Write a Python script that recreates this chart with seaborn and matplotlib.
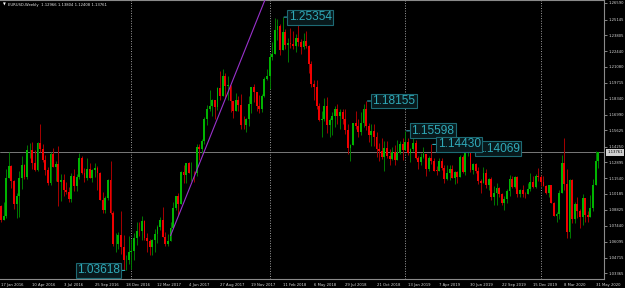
import numpy as np
import pandas as pd
import matplotlib
matplotlib.use("Agg")
import matplotlib.pyplot as plt
import matplotlib.transforms as mtransforms
import seaborn as sns

# ---------------- data (EURUSD weekly) ----------------
week_start = "2016-01-17"
first_open = 1.0915

close16 = [1.0796, 1.0831, 1.1158, 1.1259, 1.1130, 1.0932, 1.1004, 1.1152, 1.1267, 1.1165,
           1.1391, 1.1399, 1.1282, 1.1224, 1.1451, 1.1401, 1.1307, 1.1222, 1.1114, 1.1365,
           1.1250, 1.1277, 1.1119, 1.1136, 1.1052, 1.1039, 1.0976, 1.1175, 1.1086, 1.1161,
           1.1325, 1.1198, 1.1154, 1.1233, 1.1155, 1.1227, 1.1240, 1.1201, 1.0968, 1.0884,
           1.0984, 1.1140, 1.0851, 1.0587, 1.0588, 1.0664, 1.0559, 1.0450, 1.0455, 1.0520]
high16 = [1.0926, 1.0950, 1.1236, 1.1376, 1.1263, 1.1135, 1.1030, 1.1218, 1.1342, 1.1278,
          1.1439, 1.1453, 1.1465, 1.1398, 1.1460, 1.1616, 1.1447, 1.1349, 1.1252, 1.1374,
          1.1416, 1.1298, 1.1428, 1.1188, 1.1186, 1.1120, 1.1079, 1.1198, 1.1235, 1.1188,
          1.1366, 1.1342, 1.1240, 1.1327, 1.1283, 1.1234, 1.1283, 1.1259, 1.1207, 1.1039,
          1.1000, 1.1143, 1.1300, 1.0870, 1.0687, 1.0695, 1.0874, 1.0669, 1.0496, 1.0653]
low16 = [1.0778, 1.0808, 1.0810, 1.1159, 1.1067, 1.0888, 1.0809, 1.0823, 1.1058, 1.1143,
         1.1144, 1.1327, 1.1234, 1.1215, 1.1217, 1.1382, 1.1292, 1.1178, 1.1098, 1.1098,
         1.1248, 1.1131, 1.0912, 1.0957, 1.0999, 1.1019, 1.0952, 1.0951, 1.1046, 1.1046,
         1.1145, 1.1185, 1.1122, 1.1142, 1.1153, 1.1121, 1.1160, 1.1048, 1.0968, 1.0858,
         1.0852, 1.0966, 1.0842, 1.0569, 1.0518, 1.0548, 1.0504, 1.0366, 1.03618, 1.0419]

close17 = [1.0532, 1.0643, 1.0703, 1.0698, 1.0785, 1.0641, 1.0618, 1.0562, 1.0621, 1.0671,
           1.0738, 1.0797, 1.0651, 1.0591, 1.0616, 1.0727, 1.0894, 1.0997, 1.0933, 1.1206,
           1.1183, 1.1283, 1.1196, 1.1198, 1.1195, 1.1424, 1.1400, 1.1470, 1.1665, 1.1748,
           1.1773, 1.1821, 1.1760, 1.1923, 1.1858, 1.2033, 1.1944, 1.1951, 1.1818, 1.1729,
           1.1822, 1.1784, 1.1609, 1.1608, 1.1664, 1.1792, 1.1935, 1.1893, 1.1773, 1.1749,
           1.1856, 1.2007]
high17 = [1.0628, 1.0685, 1.0775, 1.0775, 1.0829, 1.0797, 1.0679, 1.0631, 1.0634, 1.0714,
          1.0748, 1.0824, 1.0906, 1.0690, 1.0678, 1.0778, 1.0951, 1.0999, 1.1023, 1.1211,
          1.1268, 1.1285, 1.1296, 1.1296, 1.1219, 1.1445, 1.1446, 1.1490, 1.1680, 1.1777,
          1.1910, 1.1829, 1.1788, 1.1940, 1.2070, 1.2092, 1.2058, 1.2034, 1.1950, 1.1790,
          1.1880, 1.1860, 1.1879, 1.1689, 1.1668, 1.1861, 1.1940, 1.1961, 1.1876, 1.1863,
          1.1878, 1.2023]
low17 = [1.0370, 1.0454, 1.0578, 1.0655, 1.0620, 1.0621, 1.0521, 1.0494, 1.0493, 1.0524,
         1.0600, 1.0712, 1.0650, 1.0570, 1.0571, 1.0651, 1.0821, 1.0877, 1.0838, 1.0930,
         1.1109, 1.1109, 1.1195, 1.1131, 1.1119, 1.1172, 1.1312, 1.1371, 1.1444, 1.1612,
         1.1730, 1.1689, 1.1662, 1.1740, 1.1823, 1.1857, 1.1838, 1.1822, 1.1717, 1.1669,
         1.1730, 1.1730, 1.1574, 1.1574, 1.1553, 1.1599, 1.1715, 1.1811, 1.1730, 1.1716,
         1.1720, 1.1851]

close18 = [1.2029, 1.2196, 1.2221, 1.2426, 1.2462, 1.2253, 1.2405, 1.2295, 1.2315, 1.2307,
           1.2287, 1.2353, 1.2320, 1.2280, 1.2330, 1.2289, 1.2129, 1.1960, 1.1940, 1.1769,
           1.1653, 1.1658, 1.1770, 1.1611, 1.1655, 1.1685, 1.1747, 1.1685, 1.1719, 1.1657,
           1.1567, 1.1411, 1.1438, 1.1624, 1.1604, 1.1552, 1.1625, 1.1744, 1.1604, 1.1525,
           1.1559, 1.1510, 1.1401, 1.1388, 1.1335, 1.1415, 1.1340, 1.1317, 1.1377, 1.1307,
           1.1371, 1.1443, 1.1394]
high18 = [1.2089, 1.2219, 1.2323, 1.2530, 1.2520, 1.2478, 1.25354, 1.2432, 1.2353, 1.2446,
          1.2413, 1.2387, 1.2477, 1.2346, 1.2396, 1.2414, 1.2296, 1.2156, 1.2000, 1.1995,
          1.1796, 1.1726, 1.1840, 1.1852, 1.1670, 1.1720, 1.1770, 1.1791, 1.1746, 1.1750,
          1.1747, 1.1615, 1.1446, 1.1623, 1.1734, 1.1659, 1.1721, 1.1786, 1.18155, 1.1624,
          1.1622, 1.1621, 1.1547, 1.1456, 1.1499, 1.1472, 1.1472, 1.1401, 1.1420, 1.1442,
          1.1485, 1.1476, 1.1497]
low18 = [1.1996, 1.1916, 1.2165, 1.2215, 1.2335, 1.2206, 1.2260, 1.2260, 1.2153, 1.2272,
         1.2259, 1.2240, 1.2285, 1.2215, 1.2262, 1.2270, 1.2055, 1.1938, 1.1823, 1.1750,
         1.1642, 1.1510, 1.1645, 1.1541, 1.1508, 1.1526, 1.1590, 1.1615, 1.1575, 1.1614,
         1.1529, 1.1365, 1.1301, 1.1437, 1.1577, 1.1509, 1.1526, 1.1594, 1.1570, 1.1462,
         1.1432, 1.1432, 1.1335, 1.1302, 1.1316, 1.1216, 1.1325, 1.1268, 1.1310, 1.1268,
         1.1332, 1.1360, 1.1309]

close19 = [1.1467, 1.1366, 1.1407, 1.1456, 1.1326, 1.1295, 1.1335, 1.1365, 1.1235, 1.1325,
           1.1297, 1.1217, 1.1216, 1.1297, 1.1245, 1.1150, 1.1202, 1.1233, 1.1159, 1.1205,
           1.1167, 1.1333, 1.1206, 1.1370, 1.1370, 1.1225, 1.1271, 1.1219, 1.1127, 1.1108,
           1.1201, 1.1092, 1.1143, 1.0989, 1.1027, 1.1073, 1.1016, 1.0940, 1.0979, 1.1040,
           1.1143, 1.1080, 1.1166, 1.1017, 1.1052, 1.1018, 1.1017, 1.1060, 1.1120, 1.1078,
           1.1176, 1.1160]
high19 = [1.15598, 1.1497, 1.1415, 1.1514, 1.1481, 1.1342, 1.1372, 1.1420, 1.1362, 1.1345,
          1.14430, 1.1325, 1.1255, 1.1323, 1.1324, 1.1267, 1.1265, 1.1263, 1.1265, 1.1214,
          1.1216, 1.1348, 1.1348, 1.1372, 1.14069, 1.1394, 1.1286, 1.1286, 1.1250, 1.1150,
          1.1250, 1.1230, 1.1153, 1.1163, 1.1085, 1.1109, 1.1075, 1.1025, 1.0999, 1.1063,
          1.1179, 1.1173, 1.1175, 1.1176, 1.1063, 1.1097, 1.1039, 1.1116, 1.1200, 1.1175,
          1.1185, 1.1239]
low19 = [1.1408, 1.1353, 1.1290, 1.1389, 1.1321, 1.1234, 1.1263, 1.1325, 1.1176, 1.1214,
         1.1273, 1.1212, 1.1183, 1.1211, 1.1226, 1.1111, 1.1136, 1.1135, 1.1154, 1.1106,
         1.1116, 1.1163, 1.1201, 1.1181, 1.1341, 1.1207, 1.1193, 1.1200, 1.1101, 1.1026,
         1.1135, 1.1066, 1.1052, 1.0963, 1.0927, 1.0927, 1.0990, 1.0926, 1.0879, 1.0940,
         1.1000, 1.1072, 1.1073, 1.0989, 1.0989, 1.0990, 1.0981, 1.1020, 1.1040, 1.1065,
         1.1065, 1.1125]

close20 = [1.1121, 1.1090, 1.1025, 1.1094, 1.0944, 1.0831, 1.0847, 1.1025, 1.1284, 1.1103,
           1.0695, 1.1140, 1.0800, 1.0935, 1.0875, 1.0821, 1.0983, 1.0838, 1.0818, 1.0899,
           1.1098, 1.12966, 1.13761]
high20 = [1.1179, 1.1173, 1.1097, 1.1096, 1.1095, 1.0953, 1.0864, 1.1052, 1.1355, 1.1495,
          1.1236, 1.1147, 1.1147, 1.0953, 1.0990, 1.0891, 1.1018, 1.0981, 1.0875, 1.1009,
          1.1147, 1.1384, 1.13804]
low20 = [1.1085, 1.1085, 1.1018, 1.0992, 1.0940, 1.0827, 1.0778, 1.0800, 1.1054, 1.1055,
         1.0636, 1.0637, 1.0768, 1.0768, 1.0810, 1.0727, 1.0755, 1.0781, 1.0775, 1.0870,
         1.0871, 1.1095, 1.12408]

# zigzag price labels (drawn in this order; later ones on top)
mark_dates = ["2019-06-23", "2018-02-11", "2018-09-23", "2019-01-06", "2019-03-17", "2016-12-18"]
mark_prices = [1.14069, 1.25354, 1.18155, 1.15598, 1.14430, 1.03618]
mark_side = ["right", "right", "right", "right", "right", "left"]

# trend line anchors
trend_dates = ["2017-04-16", "2017-12-31"]
trend_prices = [1.0660, 1.2727]

current_price = 1.13761
header = "EURUSD,Weekly  1.12966 1.13804 1.12408 1.13761"

ytick_values = [1.26590, 1.25145, 1.23805, 1.22440, 1.21080, 1.19715, 1.18340, 1.16990, 1.15625,
                1.14250, 1.12895, 1.11540, 1.10185, 1.08825, 1.07440, 1.06095, 1.04715, 1.03365]
xtick_labels = ["17 Jan 2016", "10 Apr 2016", "3 Jul 2016", "25 Sep 2016", "18 Dec 2016",
                "12 Mar 2017", "4 Jun 2017", "27 Aug 2017", "19 Nov 2017", "11 Feb 2018",
                "6 May 2018", "29 Jul 2018", "21 Oct 2018", "13 Jan 2019", "7 Apr 2019",
                "30 Jun 2019", "22 Sep 2019", "15 Dec 2019", "8 Mar 2020", "31 May 2020"]

# ---------------- build frame ----------------
closes = close16 + close17 + close18 + close19 + close20
highs = high16 + high17 + high18 + high19 + high20
lows = low16 + low17 + low18 + low19 + low20
n = min(len(closes), len(highs), len(lows))
dates = pd.date_range(week_start, periods=n, freq="W-SUN")
c = np.array(closes[:n])
o = np.array([first_open] + closes[:n - 1])
h = np.maximum(np.array(highs[:n]), np.maximum(o, c))
l = np.minimum(np.array(lows[:n]), np.minimum(o, c))
df = pd.DataFrame({"date": dates, "open": o, "high": h, "low": l, "close": c})
df["idx"] = np.arange(n)
df["bull"] = df["close"] >= df["open"]
date_to_idx = {d.strftime("%Y-%m-%d"): i for i, d in enumerate(dates)}

# ---------------- style ----------------
sns.set_theme(style="dark", rc={
    "axes.facecolor": "black", "figure.facecolor": "black",
    "axes.edgecolor": "#808080", "axes.grid": False,
    "xtick.color": "#9a9a9a", "ytick.color": "#9a9a9a",
})
plt.rcParams["font.family"] = ["DejaVu Sans"]

W, H = 625, 288
fig = plt.figure(figsize=(W / 100, H / 100), dpi=100)
ax = fig.add_axes([0, 9 / H, 604 / W, 279 / H])
px_per_bar = 2.608
ax.set_xlim(-1 / px_per_bar, (604 - 1) / px_per_bar)
ax.set_ylim(1.02883, 1.26822)

# year separators
yrs = df["date"].dt.year.values
sep_idx = [i for i in range(1, n) if yrs[i] != yrs[i - 1]]
for i in sep_idx:
    ax.axvline(i, color="#a0a0a0", lw=0.7, ls=(0, (1, 1.6)), zorder=1)

# current price line
ax.axhline(current_price, color="#8c8c8c", lw=0.6, zorder=1)

# candles
bull_body, bear_body = "#00b400", "#f00000"
bull_wick, bear_wick = "#007a00", "#a80000"
wcol = np.where(df["bull"], bull_wick, bear_wick)
ax.vlines(df["idx"], df["low"], df["high"], colors=wcol, lw=0.7, zorder=2)
body_bottom = np.minimum(df["open"], df["close"])
body_h = np.maximum(np.abs(df["close"] - df["open"]), 0.0004)
bcol = np.where(df["bull"], bull_body, bear_body)
ax.bar(df["idx"], body_h, bottom=body_bottom, width=0.72, color=bcol, linewidth=0, zorder=3)

# trend line
tx = [date_to_idx[d] for d in trend_dates]
sns.lineplot(x=tx, y=trend_prices, ax=ax, color="#9932cc", lw=0.8, zorder=4)

# zigzag labels
teal = "#2fa9b8"
for k, (d, p, side) in enumerate(zip(mark_dates, mark_prices, mark_side)):
    i = date_to_idx[d]
    if side == "right":
        off = 4.5 if p != 1.14069 else 6.5
    else:
        off = -4.5
    ax.annotate(f"{p:.5f}", xy=(i, p), xytext=(off, 0), textcoords="offset points",
                ha="left" if side == "right" else "right", va="center",
                fontsize=8.6, family="Liberation Sans", color=teal, zorder=6 + k,
                bbox=dict(boxstyle="square,pad=0.12", fc="#08191c", ec="#1d6a74", lw=0.8),
                arrowprops=dict(arrowstyle="-", color=teal, lw=0.8, shrinkA=0, shrinkB=1))

# axes / ticks
ax.spines["left"].set_visible(False)
for s in ["right", "bottom", "top"]:
    ax.spines[s].set_color("#8a8a8a")
    ax.spines[s].set_linewidth(0.8)
ax.yaxis.tick_right()
ax.set_yticks(ytick_values)
ax.set_yticklabels([f"{v:.5f}" for v in ytick_values])
ax.tick_params(axis="y", length=2, width=0.6, pad=1.5, labelsize=2.7, labelcolor="#d8d8d8", colors="#9a9a9a")
xt = [date_to_idx[pd.Timestamp(s).strftime("%Y-%m-%d")] for s in xtick_labels]
ax.set_xticks(xt)
ax.set_xticklabels(xtick_labels, ha="left")
ax.tick_params(axis="x", length=2, width=0.6, pad=1.0, labelsize=2.7, labelcolor="#d8d8d8", colors="#9a9a9a")
ax.set_xlabel("")
ax.set_ylabel("")

# current price tag on right axis
trans = mtransforms.blended_transform_factory(ax.transAxes, ax.transData)
ax.text(1.006, current_price, f"{current_price:.5f}", transform=trans, ha="left", va="center",
        fontsize=2.7, color="black", zorder=20, clip_on=False,
        bbox=dict(boxstyle="square,pad=0.35", fc="#d0d0d0", ec="none"))

# header
fig.text(3 / W, 1 - 5 / H, "▼", fontsize=2.6, color="white", ha="left", va="center")
fig.text(8 / W, 1 - 5 / H, header, fontsize=2.7, color="#e8e8e8", ha="left", va="center")

fig.savefig("out.png", dpi=100, facecolor="black")
